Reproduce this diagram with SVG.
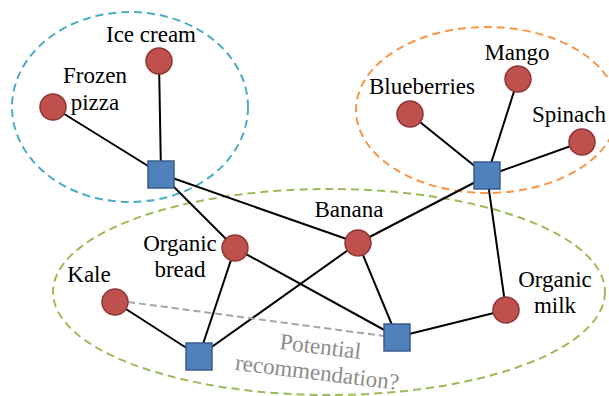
<svg xmlns="http://www.w3.org/2000/svg" width="609" height="396" viewBox="0 0 609 396">
<style>
.grp{fill:none;stroke-width:2;stroke-dasharray:8,5}
.edge{stroke:#000;stroke-width:2}
.item{fill:#C0504D;stroke:#8C3836;stroke-width:1.5}
.user{fill:#4F81BD;stroke:#385D8A;stroke-width:1.5}
text{font-family:"Liberation Serif",serif;font-size:23px;fill:#000}
.lbl{text-anchor:middle}
.rec{fill:#8C8C8C;text-anchor:middle}
</style>
<rect width="609" height="396" fill="#fff"/>
<g id="groups">
<ellipse class="grp" stroke="#4BACC6" cx="130" cy="107" rx="118" ry="95"/>
<ellipse class="grp" stroke="#F79646" cx="487" cy="110" rx="131" ry="83"/>
<ellipse class="grp" stroke="#9BBB59" cx="329" cy="292" rx="276" ry="103"/>
</g>
<g id="connectors">
<line class="edge" x1="161" y1="174" x2="159" y2="61"/>
<line class="edge" x1="161" y1="174" x2="53" y2="107"/>
<line class="edge" x1="161" y1="174" x2="235" y2="248"/>
<line class="edge" x1="161" y1="174" x2="358" y2="243"/>
<line class="edge" x1="487" y1="176" x2="410" y2="114"/>
<line class="edge" x1="487" y1="176" x2="518" y2="79"/>
<line class="edge" x1="487" y1="176" x2="582" y2="142"/>
<line class="edge" x1="487" y1="176" x2="358" y2="243"/>
<line class="edge" x1="487" y1="176" x2="506" y2="310"/>
<line class="edge" x1="199" y1="356" x2="115" y2="302"/>
<line class="edge" x1="199" y1="356" x2="235" y2="248"/>
<line class="edge" x1="199" y1="356" x2="358" y2="243"/>
<line class="edge" x1="397" y1="337" x2="235" y2="248"/>
<line class="edge" x1="397" y1="337" x2="358" y2="243"/>
<line class="edge" x1="397" y1="337" x2="506" y2="310"/>
<line x1="128" y1="302" x2="384" y2="336" stroke="#A6A6A6" stroke-width="2" stroke-dasharray="7,4"/>
</g>
<g id="user1"><rect class="user" x="148" y="161" width="26" height="27"/></g>
<g id="user2"><rect class="user" x="474" y="162" width="26" height="27"/></g>
<g id="user3"><rect class="user" x="186" y="343" width="26" height="27"/></g>
<g id="user4"><rect class="user" x="384" y="324" width="26" height="27"/></g>
<g id="icecream"><circle class="item" cx="159" cy="61" r="13"/><text class="lbl" x="151" y="42">Ice cream</text></g>
<g id="frozenpizza"><circle class="item" cx="53" cy="107" r="13"/><text class="lbl" x="95" y="83">Frozen</text><text class="lbl" x="95" y="110">pizza</text></g>
<g id="mango"><circle class="item" cx="518" cy="79" r="13"/><text class="lbl" x="517" y="60">Mango</text></g>
<g id="blueberries"><circle class="item" cx="410" cy="114" r="13"/><text class="lbl" x="422" y="94">Blueberries</text></g>
<g id="spinach"><circle class="item" cx="582" cy="142" r="13"/><text x="606" y="122" text-anchor="end">Spinach</text></g>
<g id="banana"><circle class="item" cx="358" cy="243" r="13"/><text class="lbl" x="349" y="217">Banana</text></g>
<g id="organicbread"><circle class="item" cx="235" cy="248" r="13"/><text class="lbl" x="180" y="251">Organic</text><text class="lbl" x="180" y="277">bread</text></g>
<g id="kale"><circle class="item" cx="115" cy="302" r="13"/><text class="lbl" x="89" y="282">Kale</text></g>
<g id="organicmilk"><circle class="item" cx="506" cy="310" r="13"/><text class="lbl" x="555" y="287">Organic</text><text class="lbl" x="555" y="313">milk</text></g>
<g id="recommendation" transform="rotate(7 318 366)"><text class="rec" x="318" y="354">Potential</text><text class="rec" x="318" y="380">recommendation?</text></g>
</svg>
